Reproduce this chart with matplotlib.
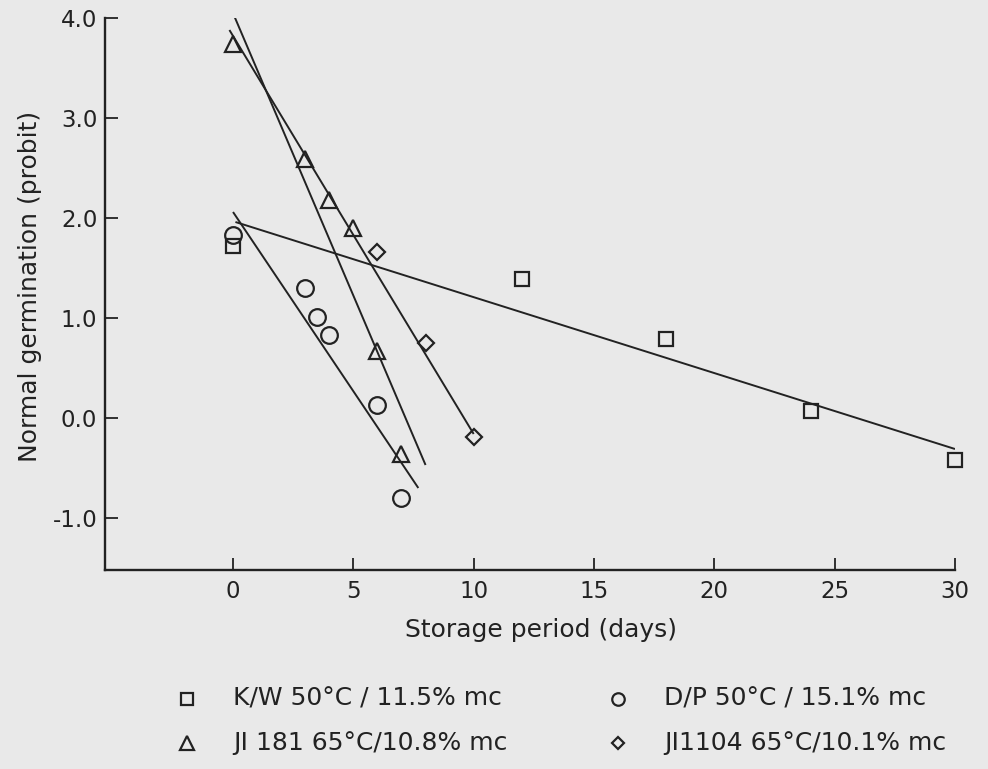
import matplotlib
matplotlib.use("Agg")
import matplotlib.pyplot as plt
from matplotlib.lines import Line2D

plt.rcParams['font.family'] = ['DejaVu Sans']

# Observed germination (probit) per storage day
kw_days = [0, 12, 18, 24, 30]
kw_probit = [1.72, 1.39, 0.79, 0.07, -0.42]

dp_days = [0, 3, 3.5, 4, 6, 7]
dp_probit = [1.83, 1.30, 1.01, 0.83, 0.13, -0.80]

ji181_days = [0, 3, 4, 5, 6, 7]
ji181_probit = [3.74, 2.59, 2.18, 1.90, 0.67, -0.36]

ji1104_days = [6, 8, 10]
ji1104_probit = [1.66, 0.75, -0.19]

# Fitted regression lines (end points)
kw_fit_x = [0.1, 30]
kw_fit_y = [1.96, -0.31]
dp_fit_x = [0, 7.7]
dp_fit_y = [2.06, -0.70]
ji181_fit_x = [0.05, 8.0]
ji181_fit_y = [4.02, -0.47]
ji1104_fit_x = [-0.15, 10.0]
ji1104_fit_y = [3.88, -0.16]

labels = ["K/W 50°C / 11.5% mc", "D/P 50°C / 15.1% mc",
          "JI 181 65°C/10.8% mc", "JI1104 65°C/10.1% mc"]

x_ticks = [0, 5, 10, 15, 20, 25, 30]
y_ticks = [-1.0, 0.0, 1.0, 2.0, 3.0, 4.0]

bg = "#e9e9e9"
ink = "#222222"

W, H = 988, 769
fig = plt.figure(figsize=(W / 100, H / 100), dpi=100, facecolor=bg)
ax_l, ax_r, ax_t, ax_b = 105, 955, 18, 570
ax = fig.add_axes([ax_l / W, 1 - ax_b / H, (ax_r - ax_l) / W, (ax_b - ax_t) / H])
ax.set_facecolor(bg)
ax.set_xlim(-5.32, 30)
ax.set_ylim(-1.52, 4.0)

for fx, fy in [(kw_fit_x, kw_fit_y), (dp_fit_x, dp_fit_y),
               (ji181_fit_x, ji181_fit_y), (ji1104_fit_x, ji1104_fit_y)]:
    ax.plot(fx, fy, color=ink, lw=1.4, solid_capstyle='butt')

mk = dict(linestyle='none', markerfacecolor='none', markeredgecolor=ink,
          markeredgewidth=1.6, clip_on=False)
ax.plot(kw_days, kw_probit, marker='s', markersize=10.5, **mk)
ax.plot(dp_days, dp_probit, marker='o', markersize=12, **mk)
ax.plot(ji181_days, ji181_probit, marker='^', markersize=12, **mk)
ax.plot(ji1104_days, ji1104_probit, marker='D', markersize=8, **mk)

for side in ('top', 'right'):
    ax.spines[side].set_visible(False)
for side in ('left', 'bottom'):
    ax.spines[side].set_linewidth(1.7)
    ax.spines[side].set_color(ink)

ax.set_xticks(x_ticks)
ax.set_xticklabels([str(v) for v in x_ticks])
ax.set_yticks(y_ticks)
ax.set_yticklabels([f"{v:.1f}" if v >= 0 else f"-{abs(v):.1f}" for v in y_ticks])
ax.tick_params(axis='x', direction='in', length=8.5, width=1.3, color=ink,
               labelsize=16.5, labelcolor=ink, pad=7)
ax.tick_params(axis='y', direction='in', length=9, width=1.3, color=ink,
               labelsize=16.5, labelcolor=ink, pad=5.5)

ax.set_xlabel("Storage period (days)", fontsize=18, color=ink, va='center')
ax.xaxis.set_label_coords((541 - ax_l) / (ax_r - ax_l), (ax_b - 630) / (ax_b - ax_t))
ax.set_ylabel("Normal germination (probit)", fontsize=18, color=ink, va='center')
ax.yaxis.set_label_coords((30 - ax_l) / (ax_r - ax_l), (ax_b - 286) / (ax_b - ax_t))

# Two-column key below the plot
key = [
    ('s', 8, labels[0], 187, 699),
    ('^', 10, labels[2], 187, 743),
    ('o', 9, labels[1], 618, 699),
    ('D', 6.5, labels[3], 618, 743),
]
for marker, size, text, px, py in key:
    fig.add_artist(Line2D([px / W], [1 - py / H], transform=fig.transFigure,
                          marker=marker, markersize=size,
                          **{k: v for k, v in mk.items() if k != 'clip_on'}))
    fig.text((px + 46) / W, 1 - py / H, text, fontsize=18, color=ink,
             ha='left', va='center')

fig.savefig("out.png", dpi=100, facecolor=bg)
